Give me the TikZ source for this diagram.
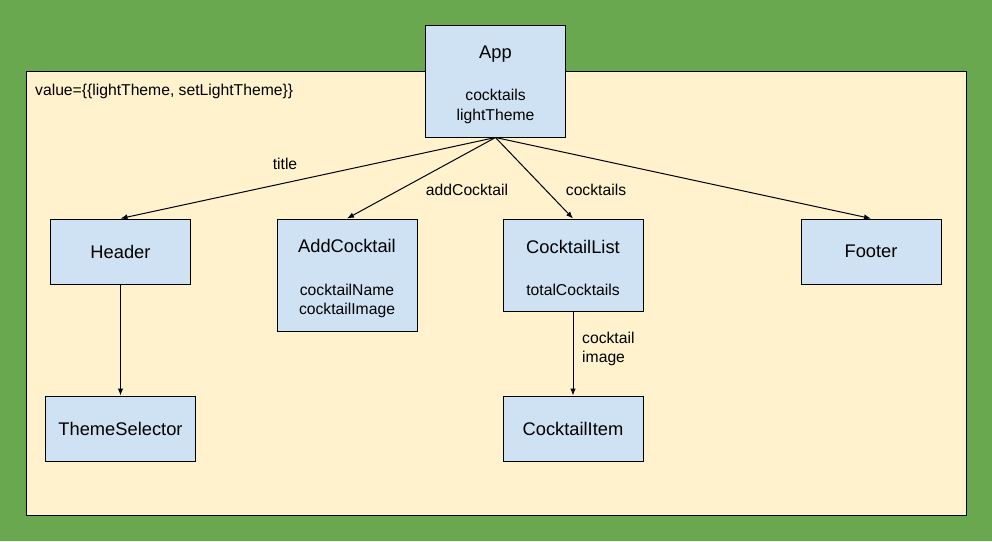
\documentclass[tikz,border=0pt]{standalone}
\usepackage{fontspec}
\setmainfont{Liberation Sans}
\usetikzlibrary{arrows.meta}
\definecolor{bggreen}{HTML}{6AA84F}
\definecolor{panel}{HTML}{FFF2CC}
\definecolor{boxblue}{HTML}{CFE2F3}
\newcommand{\bigname}[1]{{\fontsize{18.3}{19}\selectfont #1}}
\newcommand{\toppad}{\rule{0pt}{20pt}}

\begin{document}
\begin{tikzpicture}[
                    x=1pt, y=-1pt,
                    every node/.style={inner sep=2pt},
                    comp/.style={draw=black, fill=boxblue, line width=1pt,
                                 minimum width=140pt, align=center,
                                 font=\fontsize{15.7}{19.5}\selectfont},
                    lbl/.style={font=\fontsize{15.7}{19}\selectfont},
                    link/.style={draw, line width=1pt,
                                 -{Latex[length=7pt,width=5.5pt]}}
                  ]
                  % background and context panel
                  \fill[bggreen] (0,0) rectangle (992,541);
                  \useasboundingbox (0,0) rectangle (992,541);
                  \draw[fill=panel, line width=1pt] (26,71) rectangle (966,515);
                  \node[lbl, anchor=west] (ctx) at (33,91) {value=\{\{lightTheme, setLightTheme\}\}};

                  % components
                  \node[comp, minimum height=112pt] (app) at (495.5,81)
                      {\toppad\bigname{App}\\[22.5pt] cocktails\\ lightTheme};
                  \node[comp, minimum height=65pt] (header) at (120.5,251.5)
                      {\bigname{Header}};
                  \node[comp, minimum height=112pt] (addcocktail) at (347,275)
                      {\toppad\bigname{AddCocktail}\\[23.5pt] cocktailName\\ cocktailImage};
                  \node[comp, minimum height=92pt] (cocktaillist) at (573,265)
                      {\toppad\bigname{CocktailList}\\[22.5pt] totalCocktails};
                  \node[comp, minimum height=65pt] (footer) at (871,251.5)
                      {\bigname{Footer}};
                  \node[comp, minimum width=150pt, minimum height=65pt] (themeselector) at (120.5,428.5)
                      {\bigname{ThemeSelector}};
                  \node[comp, minimum height=65pt] (cocktailitem) at (573,428.5)
                      {\bigname{CocktailItem}};

                  % props
                  \draw[link] (app.south) -- (header.north);
                  \draw[link] (app.south) -- (addcocktail.north);
                  \draw[link] (app.south) -- (cocktaillist.north);
                  \draw[link] (app.south) -- (footer.north);
                  \draw[link] (header.south) -- (themeselector.north);
                  \draw[link] (cocktaillist.south) -- (cocktailitem.north);

                  \node[lbl] (titlelbl) at (285,164) {title};
                  \node[lbl] (addlbl) at (467,190) {addCocktail};
                  \node[lbl] (cocktailslbl) at (596,190) {cocktails};
                  \node[lbl, anchor=west, align=left] (itemlbl) at (580,349) {cocktail\\image};
                \end{tikzpicture}
\end{document}
